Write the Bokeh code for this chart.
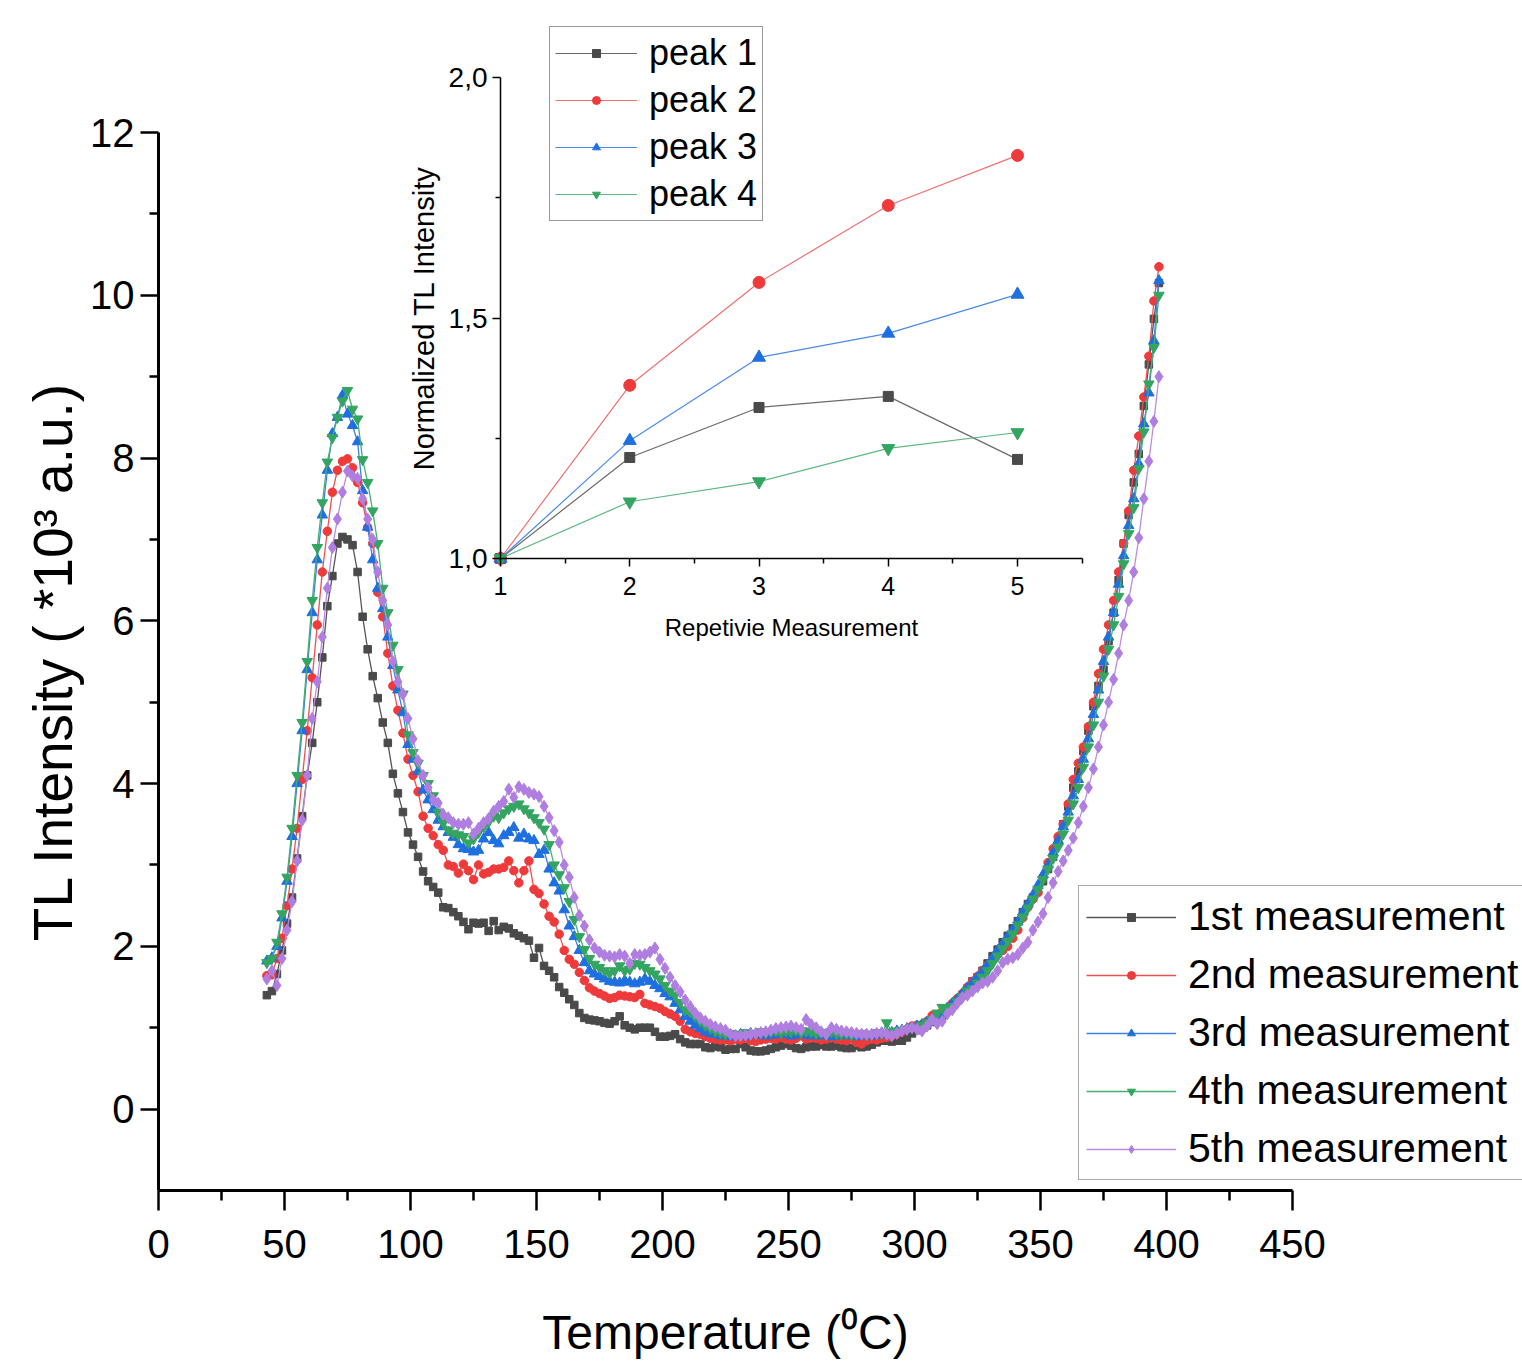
from bokeh.plotting import figure
from bokeh.models import (Range1d, LinearAxis, FixedTicker, Legend, LegendItem,
                          CustomJSTickFormatter)
from bokeh.embed import file_html
from bokeh.resources import INLINE

# ---------------- data ----------------
temperature = list(range(43, 398, 2))  # measurement grid, deg C

meas1 = [1.40, 1.45, 1.66, 1.95, 2.28, 2.60, 3.08, 3.60, 4.10, 4.50,
         5.00, 5.55, 6.18, 6.55, 6.95, 7.03, 7.00, 6.93, 6.60, 6.05,
         5.65, 5.32, 5.05, 4.75, 4.50, 4.12, 3.88, 3.65, 3.40, 3.25,
         3.10, 2.92, 2.80, 2.73, 2.66, 2.48, 2.47, 2.42, 2.37, 2.30,
         2.21, 2.29, 2.28, 2.29, 2.19, 2.31, 2.20, 2.24, 2.22, 2.16,
         2.13, 2.10, 2.07, 1.86, 1.98, 1.76, 1.70, 1.62, 1.50, 1.43,
         1.35, 1.28, 1.18, 1.12, 1.10, 1.09, 1.08, 1.06, 1.05, 1.08,
         1.14, 1.03, 1.00, 0.98, 1.00, 1.00, 1.00, 0.95, 0.89, 0.89,
         0.90, 0.92, 0.86, 0.82, 0.80, 0.80, 0.80, 0.76, 0.75, 0.77,
         0.76, 0.73, 0.74, 0.74, 0.80, 0.76, 0.72, 0.71, 0.71, 0.72,
         0.74, 0.76, 0.78, 0.80, 0.78, 0.75, 0.74, 0.76, 0.77, 0.77,
         0.79, 0.77, 0.77, 0.78, 0.76, 0.75, 0.75, 0.78, 0.76, 0.77,
         0.79, 0.82, 0.84, 0.84, 0.83, 0.84, 0.84, 0.88, 0.93, 0.97,
         1.00, 1.03, 1.07, 1.10, 1.15, 1.22, 1.27, 1.33, 1.40, 1.48,
         1.57, 1.62, 1.70, 1.79, 1.88, 1.96, 2.05, 2.13, 2.22, 2.31,
         2.42, 2.52, 2.60, 2.68, 2.80, 2.95, 3.10, 3.30, 3.50, 3.72,
         3.95, 4.15, 4.40, 4.65, 4.95, 5.20, 5.40, 5.75, 6.10, 6.50,
         6.95, 7.30, 7.70, 8.05, 8.64, 9.15, 9.71, 10.15]

meas2 = [1.64, 1.65, 1.85, 2.10, 2.50, 2.95, 3.45, 4.05, 4.65, 5.30,
         5.95, 6.60, 7.10, 7.58, 7.85, 7.96, 7.99, 7.88, 7.70, 7.45,
         7.15, 6.95, 6.35, 6.05, 5.60, 5.20, 4.90, 4.62, 4.30, 4.10,
         3.90, 3.60, 3.45, 3.36, 3.25, 3.18, 3.00, 2.98, 2.90, 3.01,
         2.93, 2.82, 3.00, 2.89, 2.91, 2.95, 2.95, 2.97, 3.05, 2.93,
         2.78, 2.93, 3.05, 2.70, 2.65, 2.52, 2.37, 2.30, 2.15, 1.95,
         1.84, 1.78, 1.68, 1.58, 1.49, 1.45, 1.42, 1.39, 1.36, 1.37,
         1.40, 1.39, 1.38, 1.37, 1.41, 1.30, 1.28, 1.26, 1.24, 1.20,
         1.17, 1.14, 1.08, 0.98, 0.95, 0.93, 0.92, 0.89, 0.87, 0.86,
         0.85, 0.85, 0.84, 0.86, 0.85, 0.87, 0.84, 0.83, 0.85, 0.86,
         0.87, 0.86, 0.88, 0.86, 0.85, 0.87, 0.90, 0.86, 0.88, 0.87,
         0.85, 0.86, 0.88, 0.86, 0.85, 0.84, 0.86, 0.82, 0.80, 0.84,
         0.86, 0.85, 0.87, 0.88, 0.90, 0.92, 0.95, 0.98, 1.02, 1.03,
         1.04, 1.08, 1.15, 1.16, 1.20, 1.24, 1.30, 1.36, 1.42, 1.50,
         1.57, 1.63, 1.70, 1.77, 1.84, 1.90, 1.95, 2.00, 2.10, 2.20,
         2.35, 2.48, 2.58, 2.66, 2.85, 3.03, 3.20, 3.35, 3.50, 3.75,
         4.05, 4.25, 4.45, 4.70, 5.00, 5.35, 5.65, 5.95, 6.25, 6.60,
         6.95, 7.35, 7.85, 8.27, 8.75, 9.25, 9.93, 10.35]

meas3 = [1.82, 1.86, 2.00, 2.35, 2.80, 3.35, 4.00, 4.65, 5.40, 6.10,
         6.75, 7.30, 7.85, 8.30, 8.50, 8.77, 8.54, 8.40, 8.20, 7.60,
         7.15, 6.75, 6.40, 6.15, 5.80, 5.45, 5.15, 4.87, 4.48, 4.30,
         4.15, 3.92, 3.80, 3.68, 3.55, 3.47, 3.40, 3.34, 3.25, 3.20,
         3.19, 3.16, 3.18, 3.32, 3.40, 3.30, 3.26, 3.36, 3.40, 3.46,
         3.33, 3.38, 3.32, 3.30, 3.13, 3.18, 2.95, 2.78, 2.68, 2.45,
         2.25, 2.12, 1.95, 1.80, 1.70, 1.66, 1.63, 1.60, 1.57, 1.56,
         1.55, 1.58, 1.56, 1.54, 1.56, 1.60, 1.57, 1.52, 1.48, 1.42,
         1.38, 1.30, 1.22, 1.14, 1.08, 1.03, 0.99, 0.95, 0.93, 0.92,
         0.90, 0.91, 0.89, 0.90, 0.92, 0.90, 0.93, 0.91, 0.92, 0.90,
         0.93, 0.91, 0.92, 0.94, 0.90, 0.92, 0.91, 0.93, 0.90, 0.91,
         0.90, 0.92, 0.89, 0.91, 0.90, 0.92, 0.90, 0.89, 0.90, 0.91,
         0.90, 0.92, 0.91, 0.93, 0.94, 0.96, 0.97, 0.99, 1.00, 1.02,
         1.04, 1.07, 1.10, 1.14, 1.18, 1.24, 1.30, 1.35, 1.42, 1.49,
         1.55, 1.62, 1.69, 1.77, 1.86, 1.95, 2.03, 2.12, 2.20, 2.30,
         2.42, 2.52, 2.63, 2.75, 2.88, 3.00, 3.15, 3.30, 3.47, 3.65,
         3.85, 4.05, 4.30, 4.55, 4.85, 5.15, 5.50, 5.80, 6.10, 6.45,
         6.80, 7.17, 7.50, 7.93, 8.42, 8.80, 9.44, 10.18]

meas4 = [1.80, 1.85, 2.05, 2.40, 2.85, 3.45, 4.10, 4.75, 5.50, 6.25,
         6.90, 7.45, 7.95, 8.25, 8.50, 8.70, 8.83, 8.60, 8.48, 7.98,
         7.70, 7.35, 6.95, 6.40, 6.10, 5.70, 5.40, 5.10, 4.60, 4.38,
         4.25, 4.10, 4.00, 3.85, 3.65, 3.52, 3.43, 3.39, 3.37, 3.35,
         3.27, 3.32, 3.40, 3.47, 3.53, 3.60, 3.58, 3.64, 3.69, 3.72,
         3.75, 3.69, 3.64, 3.58, 3.52, 3.44, 3.25, 3.00, 2.88, 2.72,
         2.55, 2.33, 2.12, 1.96, 1.85, 1.78, 1.74, 1.70, 1.67, 1.70,
         1.76, 1.70, 1.72, 1.79, 1.78, 1.74, 1.70, 1.66, 1.60, 1.52,
         1.45, 1.40, 1.31, 1.22, 1.20, 1.14, 1.08, 1.03, 0.99, 0.96,
         0.94, 0.92, 0.93, 0.91, 0.92, 0.94, 0.92, 0.93, 0.95, 0.94,
         0.95, 0.96, 0.94, 0.96, 0.95, 0.97, 0.94, 0.96, 0.95, 0.93,
         0.94, 0.92, 0.95, 0.93, 0.92, 0.93, 0.91, 0.92, 0.93, 0.91,
         0.92, 0.94, 0.93, 1.06, 0.95, 0.96, 0.97, 0.98, 1.00, 1.01,
         1.03, 1.06, 1.10, 1.18, 1.25, 1.22, 1.26, 1.32, 1.38, 1.45,
         1.48, 1.55, 1.62, 1.70, 1.79, 1.88, 1.97, 2.06, 2.15, 2.26,
         2.36, 2.47, 2.58, 2.70, 2.82, 2.95, 3.08, 3.22, 3.38, 3.55,
         3.75, 3.95, 4.20, 4.45, 4.72, 5.00, 5.32, 5.65, 5.95, 6.30,
         6.70, 7.07, 7.39, 7.87, 8.32, 8.91, 9.36, 10.00]

meas5 = [1.60, 1.70, 1.52, 1.85, 2.20, 2.55, 3.05, 3.55, 4.10, 4.80,
         5.25, 5.80, 6.40, 6.90, 7.25, 7.58, 7.84, 7.78, 7.75, 7.50,
         7.25, 7.00, 6.60, 6.25, 5.95, 5.50, 5.25, 5.10, 4.80, 4.55,
         4.28, 4.10, 3.95, 3.80, 3.76, 3.62, 3.58, 3.52, 3.50, 3.50,
         3.52, 3.38, 3.45, 3.52, 3.57, 3.66, 3.72, 3.78, 3.93, 3.83,
         3.96, 3.93, 3.89, 3.87, 3.84, 3.72, 3.58, 3.42, 3.28, 3.00,
         2.85, 2.60, 2.38, 2.25, 2.08, 1.98, 1.93, 1.89, 1.88, 1.87,
         1.90, 1.88, 1.79, 1.90, 1.89, 1.90, 1.93, 1.98, 1.84, 1.73,
         1.62, 1.52, 1.44, 1.34, 1.26, 1.18, 1.12, 1.08, 1.04, 1.01,
         0.99, 0.97, 0.92, 0.90, 0.90, 0.91, 0.92, 0.93, 0.94, 0.95,
         0.97, 0.99, 1.00, 1.01, 1.02, 1.00, 0.98, 1.10, 1.04, 1.00,
         0.95, 0.92, 1.00, 0.98, 0.96, 0.95, 0.94, 0.93, 0.92, 0.92,
         0.92, 0.93, 0.94, 0.92, 0.90, 0.93, 0.96, 0.98, 1.00, 0.98,
         0.96, 1.02, 1.10, 1.05, 1.08, 1.17, 1.22, 1.30, 1.37, 1.40,
         1.45, 1.50, 1.55, 1.57, 1.62, 1.70, 1.80, 1.84, 1.86, 1.90,
         1.98, 2.05, 2.20, 2.30, 2.40, 2.60, 2.78, 2.92, 3.05, 3.18,
         3.33, 3.52, 3.72, 3.95, 4.18, 4.45, 4.72, 5.00, 5.28, 5.60,
         5.95, 6.25, 6.60, 7.02, 7.50, 7.96, 8.45, 9.00]

series_labels = ["1st measurement", "2nd measurement", "3rd measurement",
                 "4th measurement", "5th measurement"]

repetition = [1, 2, 3, 4, 5]
peak1 = [1.0, 1.210, 1.314, 1.337, 1.206]
peak2 = [1.0, 1.360, 1.574, 1.734, 1.838]
peak3 = [1.0, 1.245, 1.418, 1.468, 1.549]
peak4 = [1.0, 1.118, 1.160, 1.229, 1.262]
peak_labels = ["peak 1", "peak 2", "peak 3", "peak 4"]

x_ticks = [0, 50, 100, 150, 200, 250, 300, 350, 400, 450]
y_ticks = [0, 2, 4, 6, 8, 10, 12]
inset_x_ticks = [1, 2, 3, 4, 5]
inset_y_ticks = [1.0, 1.5, 2.0]

# ---------------- layout (pixels) ----------------
# The frame covers the whole canvas; axes are placed with fixed_location.
W, H = 1522, 1367
MX0_PX, MX450_PX = 158, 1292                 # main x=0 and x=450
MY12_PX, MYM1_PX = 132, 1190                 # main y=12 and y=-1
PXX = (MX450_PX - MX0_PX) / 450.0
PXY = (MYM1_PX - MY12_PX) / 13.0
IX1_PX, IX5_PX = 500, 1017                   # inset x=1 and x=5
IY1_PX, IY2_PX = 558, 77                     # inset y=1.0 and y=2.0
IPXX = (IX5_PX - IX1_PX) / 4.0
IPXY = (IY1_PX - IY2_PX) / 1.0

FONT = "Liberation Sans"

p = figure(width=W, height=H, output_backend="svg", toolbar_location=None,
           x_range=Range1d(0 - MX0_PX / PXX, 0 + (W - MX0_PX) / PXX),
           y_range=Range1d(-1 - (H - MYM1_PX) / PXY, -1 + MYM1_PX / PXY),
           x_axis_type=None, y_axis_type=None,
           min_border_left=0, min_border_right=0,
           min_border_top=0, min_border_bottom=0)
p.outline_line_color = None
p.background_fill_color = "white"
p.border_fill_color = "white"

p.extra_x_ranges = {"ix": Range1d(1 - IX1_PX / IPXX, 1 + (W - IX1_PX) / IPXX)}
p.extra_y_ranges = {"iy": Range1d(1.0 - (H - IY1_PX) / IPXY, 1.0 + IY1_PX / IPXY)}

# ---------------- main axes ----------------
xax = LinearAxis(bounds=(0, 450), fixed_location=-1,
                 ticker=FixedTicker(ticks=x_ticks, minor_ticks=[t + 25 for t in x_ticks[:-1]]),
                 axis_label="Temperature (\u2070C)")
yax = LinearAxis(bounds=(-1, 12), fixed_location=0,
                 ticker=FixedTicker(ticks=y_ticks, minor_ticks=[t + 1 for t in y_ticks[:-1]]),
                 axis_label="TL Intensity ( *10\u00b3 a.u.)")
for ax, tick_len in ((xax, 20), (yax, 18)):
    ax.axis_line_width = 3
    ax.axis_line_color = "black"
    ax.major_tick_line_width = 2.5
    ax.minor_tick_line_width = 2.5
    ax.major_tick_in = 0
    ax.major_tick_out = tick_len
    ax.minor_tick_in = 0
    ax.minor_tick_out = tick_len // 2
    ax.major_label_text_font = FONT
    ax.major_label_text_font_size = "40px"
    ax.major_label_text_color = "black"
    ax.axis_label_text_font = FONT
    ax.axis_label_text_font_style = "normal"
    ax.axis_label_text_color = "black"
xax.major_label_standoff = 19
xax.axis_label_text_font_size = "48px"
xax.axis_label_standoff = 45
yax.major_label_standoff = 6
yax.axis_label_text_font_size = "55px"
yax.axis_label_standoff = 3
p.add_layout(xax, "below")
p.add_layout(yax, "left")

# ---------------- main series ----------------
styles = [("square", 7.5, "#4a4a4a", "#555555"),
          ("circle", 8.5, "#ee3a3a", "#f05050"),
          ("triangle", 10.5, "#1e6fe0", "#3a80e6"),
          ("inverted_triangle", 10.5, "#34a561", "#45b070"),
          ("diamond", 12, "#b07ee0", "#bb8ce6")]
main_items = []
for ys, lab, (mk, sz, mc, lc) in zip([meas1, meas2, meas3, meas4, meas5], series_labels, styles):
    ln = p.line(temperature, ys, line_color=lc, line_width=1.3)
    sc = p.scatter(temperature, ys, marker=mk, size=sz, fill_color=mc, line_color=mc)
    main_items.append(LegendItem(label=lab, renderers=[ln, sc]))

leg = Legend(items=main_items, location=(1078, H - 1180),
             label_text_font=FONT, label_text_font_size="41px", label_text_color="black",
             glyph_width=90, glyph_height=20, padding=7, spacing=11, label_standoff=12,
             border_line_color="#555555", border_line_width=1.5,
             background_fill_color="white", background_fill_alpha=1.0, margin=0)
p.add_layout(leg)

# ---------------- inset axes ----------------
comma_fmt = CustomJSTickFormatter(code="return tick.toFixed(1).replace('.', ',');")
iyax = LinearAxis(x_range_name="ix", y_range_name="iy", fixed_location=1,
                  bounds=(1.0, 2.0),
                  ticker=FixedTicker(ticks=inset_y_ticks, minor_ticks=[1.25, 1.75]),
                  formatter=comma_fmt, axis_label="Normalized TL Intensity")
ixax = LinearAxis(x_range_name="ix", y_range_name="iy", fixed_location=1.0,
                  bounds=(1, 5.5),
                  ticker=FixedTicker(ticks=inset_x_ticks, minor_ticks=[1.5, 2.5, 3.5, 4.5, 5.5]),
                  axis_label="Repetivie Measurement")
for ax in (iyax, ixax):
    ax.axis_line_width = 1.5
    ax.axis_line_color = "black"
    ax.major_tick_line_width = 1.5
    ax.minor_tick_line_width = 1.5
    ax.major_tick_in = 0
    ax.major_tick_out = 8
    ax.minor_tick_in = 0
    ax.minor_tick_out = 5
    ax.major_label_text_font = FONT
    ax.major_label_text_color = "black"
    ax.axis_label_text_font = FONT
    ax.axis_label_text_font_style = "normal"
    ax.axis_label_text_color = "black"
iyax.major_label_text_font_size = "28px"
iyax.major_label_standoff = 5
iyax.axis_label_text_font_size = "29px"
iyax.axis_label_standoff = 6
ixax.major_label_text_font_size = "25px"
ixax.major_label_standoff = 10
ixax.axis_label_text_font_size = "24px"
ixax.axis_label_standoff = 16
p.add_layout(iyax, "left")
p.add_layout(ixax, "below")

inset_styles = [("square", 10, "#4a4a4a", "#6a6a6a"),
                ("circle", 12, "#ee3a3a", "#f07070"),
                ("triangle", 13, "#1e6fe0", "#4a8ae8"),
                ("inverted_triangle", 13, "#34a561", "#5cb880")]
inset_items = []
for ys, lab, (mk, sz, mc, lc) in zip([peak1, peak2, peak3, peak4], peak_labels, inset_styles):
    ln = p.line(repetition, ys, line_color=lc, line_width=1.2,
                x_range_name="ix", y_range_name="iy")
    sc = p.scatter(repetition, ys, marker=mk, size=sz, fill_color=mc, line_color=mc,
                   x_range_name="ix", y_range_name="iy")
    inset_items.append(LegendItem(label=lab, renderers=[ln, sc]))

ileg = Legend(items=inset_items, location=(549, H - 221),
              label_text_font=FONT, label_text_font_size="36px", label_text_color="black",
              glyph_width=82, glyph_height=20, padding=5, spacing=5, label_standoff=12,
              border_line_color="#333333", border_line_width=1.5,
              background_fill_color="white", background_fill_alpha=1.0, margin=0)
p.add_layout(ileg)

open("out.html", "w").write(file_html(p, INLINE))
